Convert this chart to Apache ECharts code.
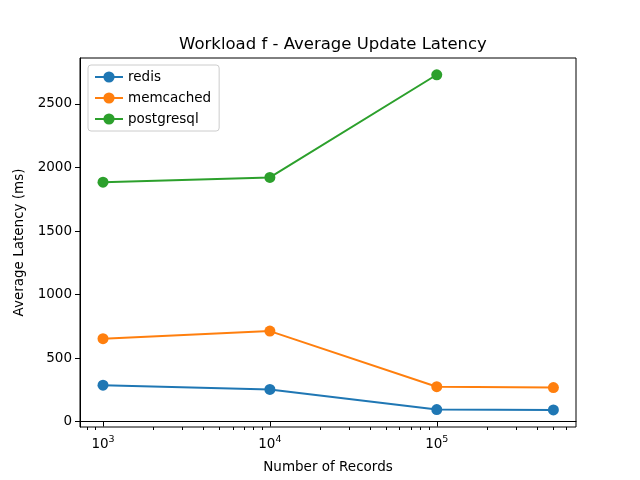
<!DOCTYPE html>
<html>
<head>
<meta charset="utf-8">
<script src="https://cdn.jsdelivr.net/npm/echarts@6/dist/echarts.min.js"></script>
<style>
  html, body { margin: 0; padding: 0; background: #fff; }
  #main { width: 640px; height: 480px; }
</style>
</head>
<body>
<div id="main"></div>
<script>
var records = [1000, 10000, 100000, 500000];
var redis = [286, 253, 94, 91];
var memcached = [652, 712, 274, 267];
var postgresql = [1884, 1922, 2730];
var majorX = [1000, 10000, 100000];
var minorX = [800, 900, 2000, 3000, 4000, 5000, 6000, 7000, 8000, 9000,
  20000, 30000, 40000, 50000, 60000, 70000, 80000, 90000,
  200000, 300000, 400000, 500000, 600000];
var yTicks = [0, 500, 1000, 1500, 2000, 2500];

var font = 'DejaVu Sans';
var dom = document.getElementById('main');
var myChart = echarts.init(dom, null, { renderer: 'canvas' });

function pairs(ys) {
  return ys.map(function (y, i) { return [records[i], y]; });
}

function lineSeries(name, color, ys) {
  return {
    name: name,
    type: 'line',
    data: pairs(ys),
    color: color,
    symbol: 'circle',
    symbolSize: 11,
    lineStyle: { width: 2, color: color },
    itemStyle: { color: color },
    emphasis: { disabled: true }
  };
}

var xMin = 728, xMax = 683000;

var option = {
  animation: false,
  title: {
    text: 'Workload f - Average Update Latency',
    left: 328,
    textAlign: 'center',
    top: 31,
    textStyle: { fontFamily: font, fontSize: 16.5, fontWeight: 'normal', color: '#000' }
  },
  legend: {
    orient: 'vertical',
    left: 88,
    top: 65,
    padding: [5, 8, 5, 6],
    itemGap: 7,
    itemWidth: 28,
    itemHeight: 14,
    borderColor: '#cccccc',
    borderWidth: 1,
    borderRadius: 3,
    backgroundColor: 'rgba(255,255,255,0.8)',
    textStyle: { fontFamily: font, fontSize: 13.5, color: '#000' },
    data: ['redis', 'memcached', 'postgresql']
  },
  grid: {
    left: 80,
    right: 64,
    top: 58,
    bottom: 53,
    show: true,
    borderColor: '#000',
    borderWidth: 1,
    backgroundColor: 'transparent'
  },
  xAxis: [
    {
      type: 'log',
      min: xMin,
      max: xMax,
      name: 'Number of Records',
      nameLocation: 'middle',
      nameGap: 33,
      nameTextStyle: { fontFamily: font, fontSize: 13.5, color: '#000' },
      axisLine: { lineStyle: { color: '#000', width: 1 } },
      axisTick: { show: true, length: 5, customValues: majorX, lineStyle: { color: '#000' } },
      axisLabel: {
        customValues: majorX,
        margin: 8,
        formatter: function (v) {
          return '{b|10}{s|' + Math.round(Math.log10(v)) + '}';
        },
        rich: {
          b: { fontFamily: font, fontSize: 13.5, color: '#000' },
          s: { fontFamily: font, fontSize: 9.5, color: '#000', verticalAlign: 'top', padding: [0, 0, 8, 0] }
        }
      },
      splitLine: { show: false },
      minorTick: { show: false }
    },
    {
      type: 'log',
      min: xMin,
      max: xMax,
      position: 'bottom',
      axisLine: { show: false },
      axisTick: { show: true, length: 3, customValues: minorX, lineStyle: { color: '#000' } },
      axisLabel: { show: false },
      splitLine: { show: false }
    }
  ],
  yAxis: {
    type: 'value',
    min: -43,
    max: 2862,
    name: 'Average Latency (ms)',
    nameLocation: 'middle',
    nameGap: 48,
    nameTextStyle: { fontFamily: font, fontSize: 13.5, color: '#000' },
    axisLine: { show: true, lineStyle: { color: '#000', width: 1 } },
    axisTick: { show: true, length: 5, customValues: yTicks, lineStyle: { color: '#000' } },
    axisLabel: {
      customValues: yTicks,
      margin: 8,
      fontFamily: font,
      fontSize: 13.5,
      color: '#000',
      formatter: function (v) { return String(v); }
    },
    splitLine: { show: false }
  },
  series: [
    lineSeries('redis', '#1f77b4', redis),
    lineSeries('memcached', '#ff7f0e', memcached),
    lineSeries('postgresql', '#2ca02c', postgresql)
  ]
};

myChart.setOption(option);
window.addEventListener('resize', myChart.resize);
</script>
</body>
</html>
